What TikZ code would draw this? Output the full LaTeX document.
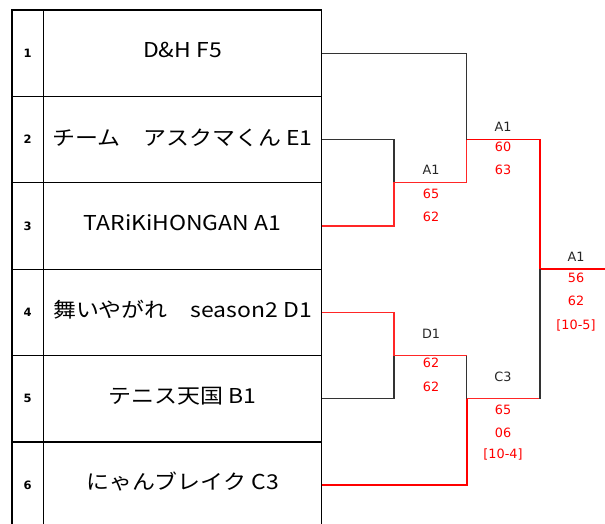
\documentclass[tikz,border=0pt]{standalone}
\usepackage{fontspec}
\setmainfont{DejaVu Sans}
\newfontfamily\jp[FakeStretch=1.12]{Noto Sans CJK JP}
\begin{document}
\begin{tikzpicture}[x=1pt,y=-1pt,
  numcell/.style={draw=black,line width=1.3pt,minimum width=31.3pt,minimum height=86.4pt,inner sep=0pt,anchor=north west,outer sep=0pt},
  namecell/.style={draw=black,line width=1.3pt,minimum width=278.4pt,minimum height=86.4pt,inner sep=0pt,anchor=north west,outer sep=0pt},
  numtxt/.style={font=\fontsize{11.5}{13}\selectfont\bfseries,inner sep=0pt},
  nametxt/.style={font=\jp\fontsize{20.5}{24}\selectfont,inner sep=0pt,anchor=base},
  lab/.style={font=\fontsize{12.8}{14}\selectfont,inner sep=0pt,anchor=base,text=black!85},
  score/.style={font=\fontsize{12.8}{14}\selectfont,inner sep=0pt,anchor=base,text=red},
  bl/.style={draw=black!80,line width=1.1pt},
  rthin/.style={draw=red!85,line width=1.1pt},
  rthick/.style={draw=red,line width=1.8pt}]
\useasboundingbox (0,0) rectangle (605,524);
% table
\foreach \i in {1,...,6}{
  \node[numcell] (c\i) at (12,{10+86.4*(\i-1)}) {};
  \node[namecell] (r\i) at (43.3,{10+86.4*(\i-1)}) {};
  \node[numtxt] (n\i) at (c\i.center) {\i};
}
\node[nametxt] (t1) at (182.5,57.5) {D\&H F5};
\node[nametxt] (t2) at (182.5,145.6) {チーム　アスクマくん E1};
\node[nametxt] (t3) at (182.5,230.5) {TARiKiHONGAN A1};
\node[nametxt] (t4) at (182.5,317) {舞いやがれ　season2 D1};
\node[nametxt] (t5) at (182.5,403.5) {テニス天国 B1};
\node[nametxt] (t6) at (182.5,489.5) {にゃんブレイク C3};
% bracket junctions
\coordinate (q1) at (394,182.8);
\coordinate (q2) at (394,355.6);
\coordinate (q2r) at (466.7,355.6);
\coordinate (s1) at (466.7,139.6);
\coordinate (s2) at (466.7,398.8);
\coordinate (s2r) at (540,398.8);
\coordinate (f) at (540,269.2);
\coordinate (fend) at (605,269.2);
% connectors
\draw[bl] (r1.east) -| (s1);
\draw[bl] (r2.east) -| (q1);
\draw[rthin] (r3.east) -| (q1) -- (q1 -| s1);
\draw[rthin] (q1 -| s1) -- (s1);
\draw[rthick] (s1) -| (f) -- (fend);
\draw[rthin] (r4.east) -| (q2) -- (q2r);
\draw[bl] (r5.east) -| (q2);
\draw[bl] (q2r) -- (s2);
\draw[rthick] (r6.east) -| (s2);
\draw[rthin] (s2) -- (s2r);
\draw[bl] (s2r) -- (f);
% labels
\node[lab] (l1) at (431,175) {A1};
\node[score] (l1a) at (431,198) {65};
\node[score] (l1b) at (431,221) {62};
\node[lab] (l2) at (431,338) {D1};
\node[score] (l2a) at (431,367.7) {62};
\node[score] (l2b) at (431,391.7) {62};
\node[lab] (l3) at (503,131.7) {A1};
\node[score] (l3a) at (503,152) {60};
\node[score] (l3b) at (503,175) {63};
\node[lab] (l4) at (503,381) {C3};
\node[score] (l4a) at (503,414) {65};
\node[score] (l4b) at (503,437) {06};
\node[score] (l4c) at (503,458) {[10-4]};
\node[lab] (l5) at (576,261.7) {A1};
\node[score] (l5a) at (576,282) {56};
\node[score] (l5b) at (576,305) {62};
\node[score] (l5c) at (576,329) {[10-5]};
\end{tikzpicture}
\end{document}
